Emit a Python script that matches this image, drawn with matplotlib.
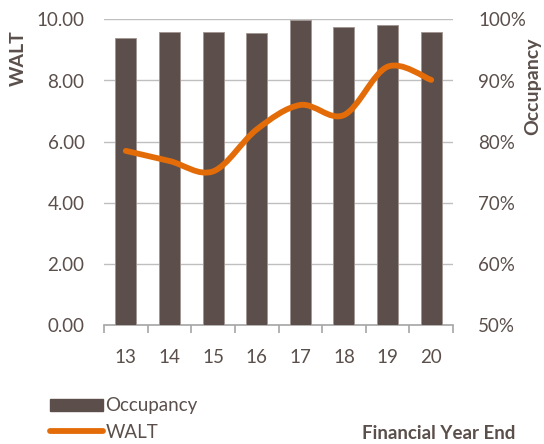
import matplotlib
matplotlib.use("Agg")
import matplotlib.pyplot as plt
from matplotlib.path import Path
from matplotlib.patches import PathPatch, Patch
from matplotlib.lines import Line2D
import numpy as np

years = ["13", "14", "15", "16", "17", "18", "19", "20"]
occupancy = [97.0, 98.0, 98.0, 97.7, 99.9, 98.8, 99.0, 98.0]
walt = [5.70, 5.37, 5.03, 6.40, 7.20, 6.87, 8.45, 8.02]

bar_color = "#5C4F4B"
line_color = "#E36C09"
text_color = "#5A4F4B"
grid_color = "#BFBFBF"

plt.rcParams['font.family'] = ['Lato', 'DejaVu Sans']

fig = plt.figure(figsize=(5.44, 4.44), dpi=100)
ax = fig.add_axes([104/544, 1-325.3/444, (453-104)/544, (325.3-19.3)/444])
ax2 = ax.twinx()

x = np.arange(len(years))

# Bars on the right axis (occupancy)
ax2.bar(x, occupancy, width=0.48, bottom=0, color=bar_color,
        edgecolor="#A09590", linewidth=0.6, zorder=2)
ax2.set_ylim(50, 100)
ax2.set_yticks([50, 60, 70, 80, 90, 100])
ax2.set_yticklabels([f"{v}%" for v in [50, 60, 70, 80, 90, 100]])

# Left axis (WALT)
ax.set_ylim(0, 10)
ax.set_yticks([0, 2, 4, 6, 8, 10])
ax.set_yticklabels([f"{v:.2f}" for v in [0, 2, 4, 6, 8, 10]])
ax.set_xlim(-0.5, len(years) - 0.5)
ax.grid(axis="y", color=grid_color, linewidth=1.0, zorder=0)
ax.set_axisbelow(True)

# WALT smoothed line on an overlay axis sharing the WALT scale
ax3 = fig.add_axes(ax.get_position(), sharex=ax, frameon=False)
ax3.set_ylim(0, 10)
ax3.axis("off")
pts = np.column_stack([x, walt]).astype(float)
verts = [tuple(pts[0])]
codes = [Path.MOVETO]
n = len(pts)
for i in range(n - 1):
    p0 = pts[i - 1] if i > 0 else pts[i]
    p1 = pts[i]
    p2 = pts[i + 1]
    p3 = pts[i + 2] if i + 2 < n else pts[i + 1]
    c1 = p1 + (p2 - p0) / 6.0
    c2 = p2 - (p3 - p1) / 6.0
    verts += [tuple(c1), tuple(c2), tuple(p2)]
    codes += [Path.CURVE4, Path.CURVE4, Path.CURVE4]
ax3.add_patch(PathPatch(Path(verts, codes), facecolor="none", edgecolor=line_color,
                        linewidth=4.2, capstyle="round", joinstyle="round", zorder=5))

# X ticks: labels centered, tick marks between categories
ax.set_xticks(x)
ax.set_xticklabels(years)
ax.set_xticks(np.arange(-0.5, len(years), 1.0), minor=True)
ax.tick_params(axis="x", which="major", length=0, pad=17, labelsize=13.5, labelcolor=text_color)
ax.tick_params(axis="x", which="minor", length=6, width=1.2, color="#A6A6A6", direction="out")
ax.tick_params(axis="y", length=0, pad=14, labelsize=13.5, labelcolor=text_color)
ax2.tick_params(axis="y", length=0, pad=18, labelsize=13.5, labelcolor=text_color)

for a in (ax, ax2):
    for s in ("top", "left", "right", "bottom"):
        a.spines[s].set_visible(False)
ax.spines["bottom"].set_visible(True)
ax.spines["bottom"].set_color("#A6A6A6")
ax.spines["bottom"].set_linewidth(1.2)
ax.spines["bottom"].set_zorder(6)

# Axis titles
fig.text(18/544, 1-58/444, "WALT", rotation=90, ha="center", va="center",
         fontsize=14, fontweight="bold", color=text_color)
fig.text(533/544, 1-86/444, "Occupancy", rotation=90, ha="center", va="center",
         fontsize=14, fontweight="bold", color=text_color)
fig.text(439/544, 1-433/444, "Financial Year End", ha="center", va="center",
         fontsize=13.5, fontweight="bold", color=text_color)

# Legend
handles = [Patch(facecolor=bar_color, edgecolor=bar_color),
           Line2D([0], [0], color=line_color, linewidth=4.2, solid_capstyle="round")]
fig.legend(handles, ["Occupancy", "WALT"], loc="center left",
           bbox_to_anchor=(50/544, 1-419/444), frameon=False, fontsize=13.5,
           labelcolor=text_color, handlelength=2.8, handleheight=0.6,
           handletextpad=0.15, labelspacing=0.5, borderaxespad=0, borderpad=0)

fig.savefig("out.png", dpi=100)
